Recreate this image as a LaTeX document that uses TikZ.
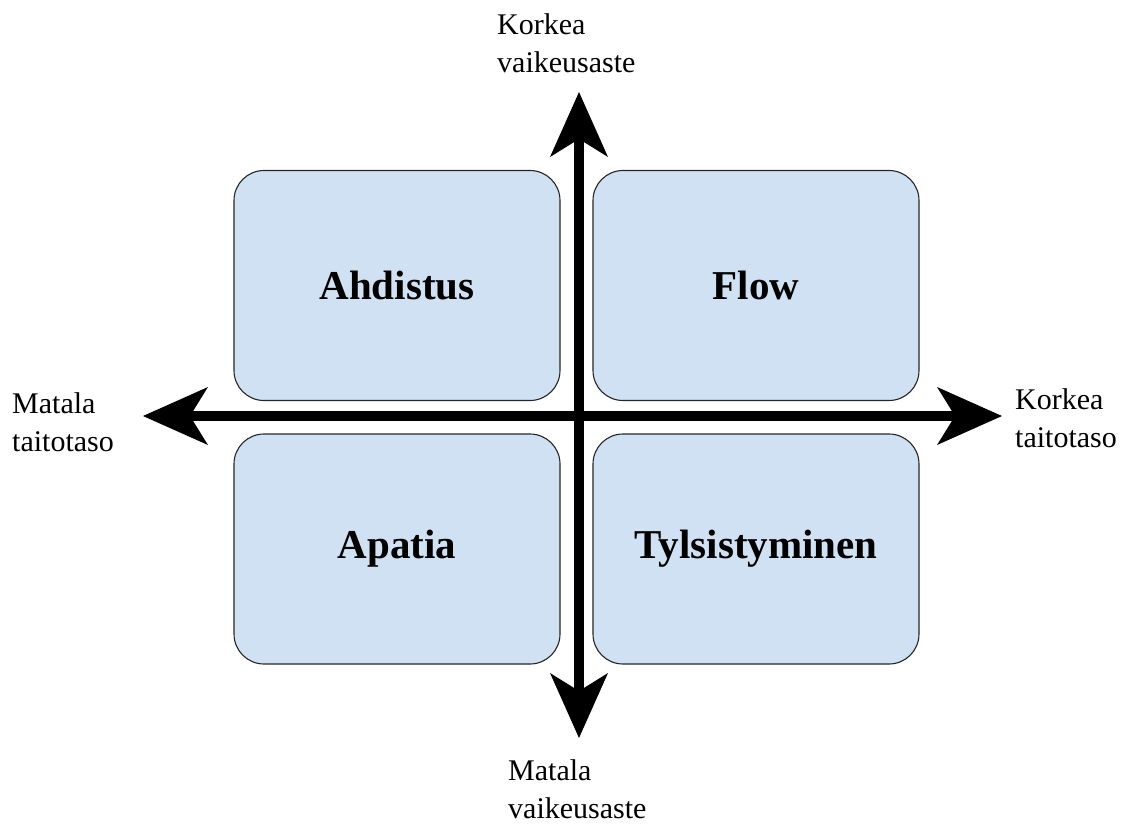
\documentclass[tikz,border=0pt]{standalone}
\usepackage{fontspec}
\setmainfont{Liberation Serif}
\usetikzlibrary{arrows.meta}

\definecolor{boxblue}{RGB}{207,225,242}

\begin{document}
\begin{tikzpicture}[x=1pt,y=1pt]
	\tikzstyle{every node}+=[inner sep=0pt]
	\tikzstyle{quad}=[draw=black!85, line width=1.1pt, fill=boxblue, rounded corners=30pt,
		minimum width=326pt, minimum height=230pt, font=\fontsize{41}{49}\selectfont\bfseries]
	\tikzstyle{axislabel}=[anchor=north west, align=left, font=\fontsize{30}{38}\selectfont]
	\tikzstyle{axis}=[line width=10pt, {Stealth[length=65pt,width=58pt,inset=18pt,line width=0pt]}-{Stealth[length=65pt,width=58pt,inset=18pt,line width=0pt]}]
	\useasboundingbox (0,0) rectangle (1125,-823);
	% quadrants
	\node [quad] (ahdistus) at (397,-285.5) {Ahdistus};
	\node [quad] (flow) at (756,-285.5) {Flow};
	\node [quad] (apatia) at (397,-549) {Apatia};
	\node [quad] (tylsistyminen) at (756,-549) {Tylsistyminen};
	% axes
	\coordinate (top) at (579,-92);
	\coordinate (bottom) at (579,-738);
	\coordinate (left) at (143,-416);
	\coordinate (right) at (1002,-416);
	\draw [axis] (bottom) -- (top);
	\draw [axis] (left) -- (right);
	% axis labels
	\node [axislabel] (highdiff) at (497,-13) {Korkea\\vaikeusaste};
	\node [axislabel] (lowdiff) at (508,-759) {Matala\\vaikeusaste};
	\node [axislabel] (lowskill) at (12,-392) {Matala\\taitotaso};
	\node [axislabel] (highskill) at (1015,-388) {Korkea\\taitotaso};
\end{tikzpicture}
\end{document}
